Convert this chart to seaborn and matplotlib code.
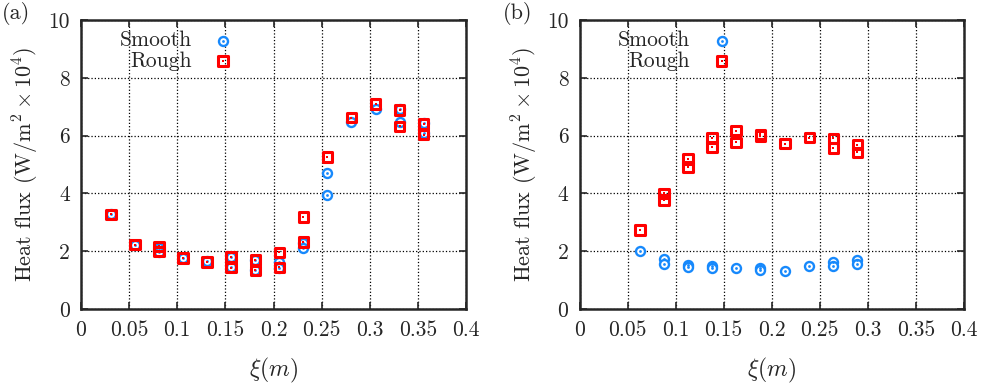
import numpy as np
import pandas as pd
import seaborn as sns
import matplotlib
matplotlib.use('Agg')
import matplotlib.pyplot as plt

# panel (a)
xa_smooth = [0.031, 0.056, 0.081, 0.081, 0.106, 0.131, 0.156, 0.156, 0.181, 0.181,
             0.206, 0.206, 0.231, 0.231, 0.256, 0.256, 0.281, 0.306, 0.331, 0.331, 0.356, 0.356]
ya_smooth = [3.27, 2.22, 2.12, 1.98, 1.76, 1.65, 1.80, 1.44, 1.68, 1.36,
             1.63, 1.42, 2.27, 2.10, 4.72, 3.96, 6.46, 6.92, 6.92, 6.48, 6.44, 6.09]
xa_rough = [0.031, 0.056, 0.081, 0.081, 0.106, 0.131, 0.156, 0.156, 0.181, 0.181,
            0.206, 0.206, 0.231, 0.231, 0.256, 0.281, 0.306, 0.331, 0.331, 0.356, 0.356]
ya_rough = [3.27, 2.23, 2.17, 1.98, 1.77, 1.63, 1.80, 1.43, 1.70, 1.34,
            1.96, 1.44, 3.19, 2.32, 5.26, 6.62, 7.10, 6.88, 6.32, 6.40, 6.03]

# panel (b)
xb_smooth = [0.063, 0.088, 0.088, 0.113, 0.113, 0.138, 0.138, 0.163, 0.188, 0.188,
             0.214, 0.239, 0.264, 0.264, 0.289, 0.289]
yb_smooth = [2.00, 1.72, 1.57, 1.53, 1.44, 1.49, 1.41, 1.41, 1.41, 1.36,
             1.33, 1.49, 1.63, 1.48, 1.71, 1.57]
xb_rough = [0.063, 0.088, 0.088, 0.113, 0.113, 0.138, 0.138, 0.163, 0.163, 0.188, 0.188,
            0.214, 0.239, 0.264, 0.264, 0.289, 0.289]
yb_rough = [2.73, 4.00, 3.77, 5.19, 4.92, 5.92, 5.60, 6.17, 5.77, 6.04, 5.98,
            5.72, 5.93, 5.90, 5.57, 5.69, 5.42]

xticks = [0, 0.05, 0.1, 0.15, 0.2, 0.25, 0.3, 0.35, 0.4]
xtick_labels = ['0', '0.05', '0.1', '0.15', '0.2', '0.25', '0.3', '0.35', '0.4']
yticks = [0, 2, 4, 6, 8, 10]

blue = '#1789fc'
red = '#ff0000'

sns.set_style('ticks')
plt.rcParams.update({'font.family': 'serif',
                     'font.serif': ['cmr10', 'DejaVu Serif'],
                     'mathtext.fontset': 'cm',
                     'axes.unicode_minus': False,
                     'axes.formatter.use_mathtext': True,
                     'font.size': 15.5})

fig = plt.figure(figsize=(9.82, 3.91), dpi=100)
ax1 = fig.add_axes([81/982, 1-309/391, 385/982, 289/391])
ax2 = fig.add_axes([579.5/982, 1-309/391, 384.5/982, 289/391])

panels = [(ax1, xa_smooth, ya_smooth, xa_rough, ya_rough),
          (ax2, xb_smooth, yb_smooth, xb_rough, yb_rough)]

for ax, xs, ys, xr, yr in panels:
    ds = pd.DataFrame({'x': xs, 'y': ys})
    dr = pd.DataFrame({'x': xr, 'y': yr})
    sns.scatterplot(data=ds, x='x', y='y', ax=ax, marker='o', s=42,
                    facecolor='white', edgecolor=blue, linewidth=1.7, zorder=3)
    sns.scatterplot(data=ds, x='x', y='y', ax=ax, marker='o', s=4,
                    color=blue, linewidth=0, zorder=4)
    sns.scatterplot(data=dr, x='x', y='y', ax=ax, marker='s', s=46,
                    facecolor='none', edgecolor=red, linewidth=2.2, zorder=5)
    sns.scatterplot(data=dr, x='x', y='y', ax=ax, marker='s', s=4,
                    color=red, linewidth=0, zorder=6)
    ring_s, dot_s, ring_r, dot_r = ax.collections[-4:]

    ax.set_xlim(0, 0.4)
    ax.set_ylim(0, 10)
    ax.set_xticks(xticks)
    ax.set_xticklabels(xtick_labels)
    ax.set_yticks(yticks)
    ax.set_yticklabels([str(v) for v in yticks])
    ax.grid(True, linestyle=':', color='black', linewidth=0.9)
    ax.tick_params(direction='in', length=5, width=1.2, top=True, right=True,
                   labelsize=15.5, pad=8)
    for sp in ax.spines.values():
        sp.set_linewidth(1.8)
        sp.set_visible(True)
    ax.set_xlabel(r'$\xi(m)$', fontsize=17, labelpad=12)
    ax.set_ylabel(r'Heat flux (W/m$^2\times10^4$)', fontsize=16, labelpad=5)

    leg = ax.legend([(ring_s, dot_s), (ring_r, dot_r)], ['Smooth', 'Rough'],
                    loc='upper left', bbox_to_anchor=(0.05, 1.03), frameon=False,
                    markerfirst=False, handlelength=1.0, handletextpad=0.95,
                    labelspacing=0.05, fontsize=15.5)
    vp = leg._legend_box._children[-1]._children[0]
    vp.align = 'right'

fig.text(0.002, 0.995, '(a)', fontsize=16, va='top', ha='left')
fig.text(0.512, 0.995, '(b)', fontsize=16, va='top', ha='left')

fig.savefig('out.png', dpi=100)
